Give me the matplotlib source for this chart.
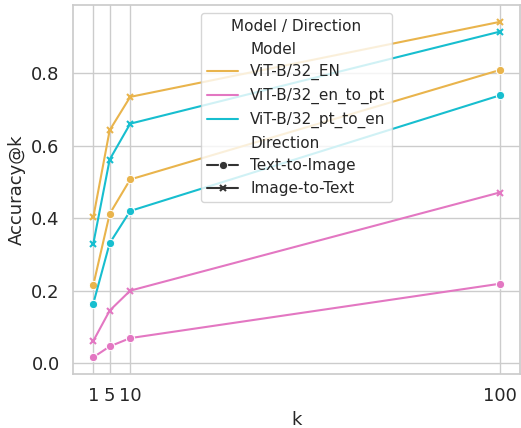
import matplotlib
matplotlib.use("Agg")
import matplotlib.pyplot as plt
import pandas as pd
import seaborn as sns

K = [1, 5, 10, 100]
MODELS = ["ViT-B/32_EN", "ViT-B/32_en_to_pt", "ViT-B/32_pt_to_en"]
DIRECTIONS = ["Text-to-Image", "Image-to-Text"]

# accuracy@k, per (model, direction)
ACC = {
    ("ViT-B/32_EN", "Text-to-Image"): [0.215, 0.412, 0.507, 0.809],
    ("ViT-B/32_EN", "Image-to-Text"): [0.402, 0.643, 0.735, 0.942],
    ("ViT-B/32_en_to_pt", "Text-to-Image"): [0.016, 0.046, 0.069, 0.219],
    ("ViT-B/32_en_to_pt", "Image-to-Text"): [0.061, 0.145, 0.200, 0.471],
    ("ViT-B/32_pt_to_en", "Text-to-Image"): [0.164, 0.331, 0.420, 0.739],
    ("ViT-B/32_pt_to_en", "Image-to-Text"): [0.329, 0.562, 0.661, 0.915],
}

COLOURS = ["#E9B44C", "#E377C2", "#17BECF"]

rows = []
for m in MODELS:
    for d in DIRECTIONS:
        for k, v in zip(K, ACC[(m, d)]):
            rows.append({"Model": m, "Direction": d, "k": k, "Accuracy@k": v})
df = pd.DataFrame(rows)

sns.set_theme(style="whitegrid")
fig = plt.figure(figsize=(5.21, 4.28), dpi=100)
ax = fig.add_axes([0.140, 0.126, 0.858, 0.862])

sns.lineplot(data=df, x="k", y="Accuracy@k", hue="Model", style="Direction",
             hue_order=MODELS, style_order=DIRECTIONS, palette=COLOURS,
             markers=["o", "X"], dashes=False, ax=ax)


def _thin_x(line):
    # swap seaborn's filled X for a plain stroked x in the line colour
    if line.get_marker() == "X":
        line.set_marker("x")
        line.set_markersize(5)
        line.set_markeredgewidth(1.5)
        line.set_markeredgecolor(line.get_color())


for line in ax.lines:
    _thin_x(line)

ax.set_xticks(K)
ax.set_xticklabels([str(k) for k in K])
ax.tick_params(labelsize=13)
ax.set_xlabel("k", fontsize=13)
ax.set_ylabel("Accuracy@k", fontsize=13)

handles, labels = ax.get_legend_handles_labels()
for h in handles:
    if hasattr(h, "get_marker"):
        _thin_x(h)
ax.legend(handles, labels, title="Model / Direction", loc="upper center",
          fontsize=11, title_fontsize=11)

fig.savefig("out.png", dpi=100)
